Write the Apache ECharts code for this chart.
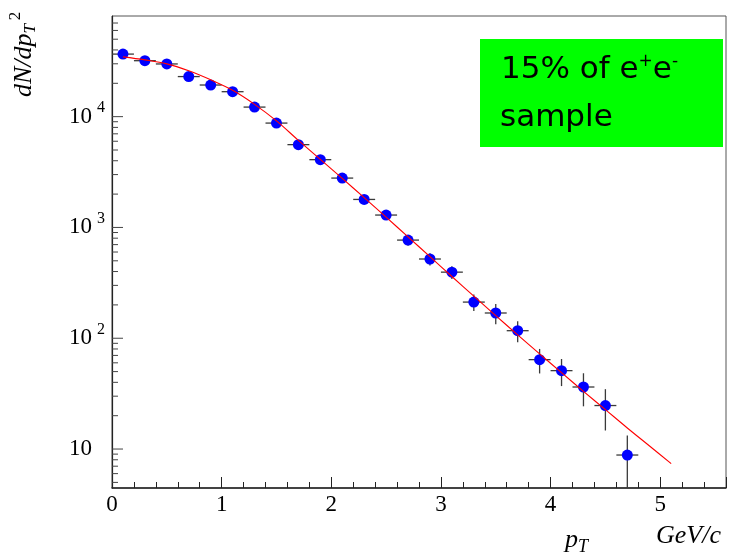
<!DOCTYPE html>
<html>
<head>
<meta charset="utf-8">
<script src="https://cdn.jsdelivr.net/npm/echarts@6/dist/echarts.min.js"></script>
<style>
  html, body { margin: 0; padding: 0; background: #ffffff; }
  #chart { width: 729px; height: 553px; }
</style>
</head>
<body>
<div id="chart"></div>
<script>
// Transverse momentum bin centres (GeV/c) and measured yields dN/dpT^2
const ptBins = [0.1, 0.3, 0.5, 0.7, 0.9, 1.1, 1.3, 1.5, 1.7, 1.9, 2.1, 2.3,
                2.5, 2.7, 2.9, 3.1, 3.3, 3.5, 3.7, 3.9, 4.1, 4.3, 4.5, 4.7];
const yields = [36700, 32000, 29900, 23000, 19300, 16800, 12200, 8750, 5590, 4090, 2790, 1790,
                1294, 769, 519, 395, 212, 169, 117, 64.1, 51.0, 36.3, 24.7, 8.83];
const yieldErrors = [540, 510, 490, 430, 400, 370, 320, 270, 215, 185, 150, 120,
                     100, 85, 65, 52, 36, 35, 25, 16, 14, 12, 10, 4.4];
const binHalfWidth = 0.1;

// Fitted spectrum, sampled along pT
const fitPt = [0.1, 0.3, 0.5, 0.7, 0.9, 1.1, 1.3, 1.5, 1.7, 1.9, 2.1, 2.3, 2.5,
               2.7, 2.9, 3.1, 3.3, 3.5, 3.7, 3.9, 4.1, 4.3, 4.5, 4.7, 4.9, 5.1];
const fitValues = [34650, 32550, 29960, 25910, 21480, 17280, 12910, 9165, 6110, 4118, 2774, 1858, 1239,
                   823, 545, 361, 240, 160, 107.3, 72.3, 48.9, 33.2, 22.7, 15.5, 10.7, 7.38];

// Axis ranges and log-axis tick marks
const xRange = [0, 5.6];
const yRange = [4.45, 81000];
const yMajorTicks = [10, 100, 1000, 10000];
const yMinorTicks = [5, 6, 7, 8, 9,
                     20, 30, 40, 50, 60, 70, 80, 90,
                     200, 300, 400, 500, 600, 700, 800, 900,
                     2000, 3000, 4000, 5000, 6000, 7000, 8000, 9000,
                     20000, 30000, 40000, 50000, 60000, 70000];

const SERIF = 'Liberation Serif, Times New Roman, serif';

const chart = echarts.init(document.getElementById('chart'), null, { renderer: 'canvas' });

function tickSeries(values, len) {
  return {
    type: 'custom',
    coordinateSystem: 'cartesian2d',
    silent: true,
    z: 6,
    data: values.map(v => [xRange[0], v]),
    encode: { x: 0, y: 1 },
    renderItem: function (params, api) {
      const p = api.coord([api.value(0), api.value(1)]);
      return {
        type: 'line',
        shape: { x1: p[0], y1: p[1], x2: p[0] + len, y2: p[1] },
        style: { stroke: '#444', lineWidth: 1 }
      };
    }
  };
}

const errorData = ptBins.map((x, i) => [x, yields[i], yieldErrors[i], binHalfWidth]);

const option = {
  animation: false,
  backgroundColor: '#ffffff',
  grid: {
    left: 112, right: 3, top: 16, bottom: 65,
    show: true, borderColor: '#555', borderWidth: 1, backgroundColor: 'transparent'
  },
  xAxis: {
    type: 'value',
    min: xRange[0], max: xRange[1], interval: 1,
    axisLine: { show: true, onZero: false, lineStyle: { color: '#222', width: 1.5 } },
    axisTick: { show: true, inside: true, length: 11, lineStyle: { color: '#222', width: 1 } },
    minorTick: { show: true, splitNumber: 5, length: 6, lineStyle: { color: '#222', width: 1 } },
    splitLine: { show: false },
    axisLabel: {
      margin: 5, color: '#000', fontFamily: SERIF, fontSize: 23,
      showMaxLabel: false
    }
  },
  yAxis: {
    type: 'log', logBase: 10,
    min: yRange[0], max: yRange[1],
    axisLine: { show: true, lineStyle: { color: '#222', width: 1.2 } },
    axisTick: { show: false },
    splitLine: { show: false },
    axisLabel: {
      showMinLabel: false, showMaxLabel: false,
      align: 'left', margin: 43,
      formatter: function (v) {
        const lg = Math.log10(v);
        const e = Math.round(lg);
        if (Math.abs(lg - e) > 1e-6) return '';
        return e === 1 ? '{b|10}' : '{b|10}{s|' + e + '}';
      },
      rich: {
        b: { fontFamily: SERIF, fontSize: 23, lineHeight: 23, color: '#000', verticalAlign: 'bottom' },
        s: { fontFamily: SERIF, fontSize: 16, lineHeight: 16, color: '#000', verticalAlign: 'bottom',
             padding: [0, 0, 12, 5] }
      }
    }
  },
  series: [
    tickSeries(yMajorTicks, 11),
    tickSeries(yMinorTicks, 6),
    {
      name: 'errors',
      type: 'custom',
      coordinateSystem: 'cartesian2d',
      silent: true,
      z: 3,
      data: errorData,
      encode: { x: 0, y: 1 },
      renderItem: function (params, api) {
        const x = api.value(0), y = api.value(1), e = api.value(2), hw = api.value(3);
        const lo = Math.max(y - e, yRange[0]);
        const c0 = api.coord([x - hw, y]);
        const c1 = api.coord([x + hw, y]);
        const v0 = api.coord([x, lo]);
        const v1 = api.coord([x, y + e]);
        const st = { stroke: '#3a3a3a', lineWidth: 1.3 };
        return {
          type: 'group',
          children: [
            { type: 'line', shape: { x1: c0[0], y1: c0[1], x2: c1[0], y2: c1[1] }, style: st },
            { type: 'line', shape: { x1: v0[0], y1: v0[1], x2: v1[0], y2: v1[1] }, style: st }
          ]
        };
      }
    },
    {
      name: 'data',
      type: 'scatter',
      z: 4,
      symbol: 'circle',
      symbolSize: 11,
      itemStyle: { color: '#0000ff', opacity: 1 },
      data: ptBins.map((x, i) => [x, yields[i]])
    },
    {
      name: 'fit',
      type: 'line',
      z: 5,
      smooth: 0.35,
      showSymbol: false,
      lineStyle: { color: '#ff0000', width: 1.1 },
      data: fitPt.map((x, i) => [x, fitValues[i]])
    }
  ],
  graphic: [
    {
      type: 'rect', z: 10,
      shape: { x: 480, y: 39, width: 243, height: 108 },
      style: { fill: '#00ff00' }
    },
    {
      type: 'text', z: 11, x: 501, y: 70,
      style: {
        text: '{n|15% of e}{s|+}{n|e}{s|-}',
        align: 'left', verticalAlign: 'middle',
        rich: {
          n: { fontFamily: 'DejaVu Sans', fontSize: 31, lineHeight: 34, fill: '#000', verticalAlign: 'middle' },
          s: { fontFamily: 'DejaVu Sans', fontSize: 17, lineHeight: 17, fill: '#000', verticalAlign: 'middle',
               padding: [0, 0, 16, 0] }
        }
      }
    },
    {
      type: 'text', z: 11, x: 500, y: 118,
      style: {
        text: 'sample', align: 'left', verticalAlign: 'middle',
        fontFamily: 'DejaVu Sans', fontSize: 31, fill: '#000'
      }
    },
    {
      type: 'text', z: 11, x: 565, y: 540,
      style: {
        text: '{m|p}{t|T}', align: 'left', verticalAlign: 'middle',
        rich: {
          m: { fontFamily: SERIF, fontStyle: 'italic', fontSize: 26, lineHeight: 26, fill: '#000', verticalAlign: 'middle' },
          t: { fontFamily: SERIF, fontStyle: 'italic', fontSize: 18, lineHeight: 18, fill: '#000', verticalAlign: 'middle',
               padding: [14, 0, 0, 0] }
        }
      }
    },
    {
      type: 'text', z: 11, x: 656, y: 536,
      style: {
        text: 'GeV/c', align: 'left', verticalAlign: 'middle',
        fontFamily: SERIF, fontStyle: 'italic', fontSize: 26, fill: '#000'
      }
    },
    {
      type: 'text', z: 11, x: 24, y: 97, rotation: Math.PI / 2,
      style: {
        text: '{m|dN/dp}{t|T}', align: 'left', verticalAlign: 'middle',
        rich: {
          m: { fontFamily: SERIF, fontStyle: 'italic', fontSize: 26, lineHeight: 26, fill: '#000', verticalAlign: 'middle' },
          t: { fontFamily: SERIF, fontStyle: 'italic', fontSize: 17, lineHeight: 17, fill: '#000', verticalAlign: 'middle',
               padding: [14, 0, 0, 0] }
        }
      }
    },
    {
      type: 'text', z: 11, x: 16, y: 16, rotation: Math.PI / 2,
      style: {
        text: '2', align: 'center', verticalAlign: 'middle',
        fontFamily: SERIF, fontSize: 17, fill: '#000'
      }
    }
  ]
};

chart.setOption(option);
</script>
</body>
</html>
